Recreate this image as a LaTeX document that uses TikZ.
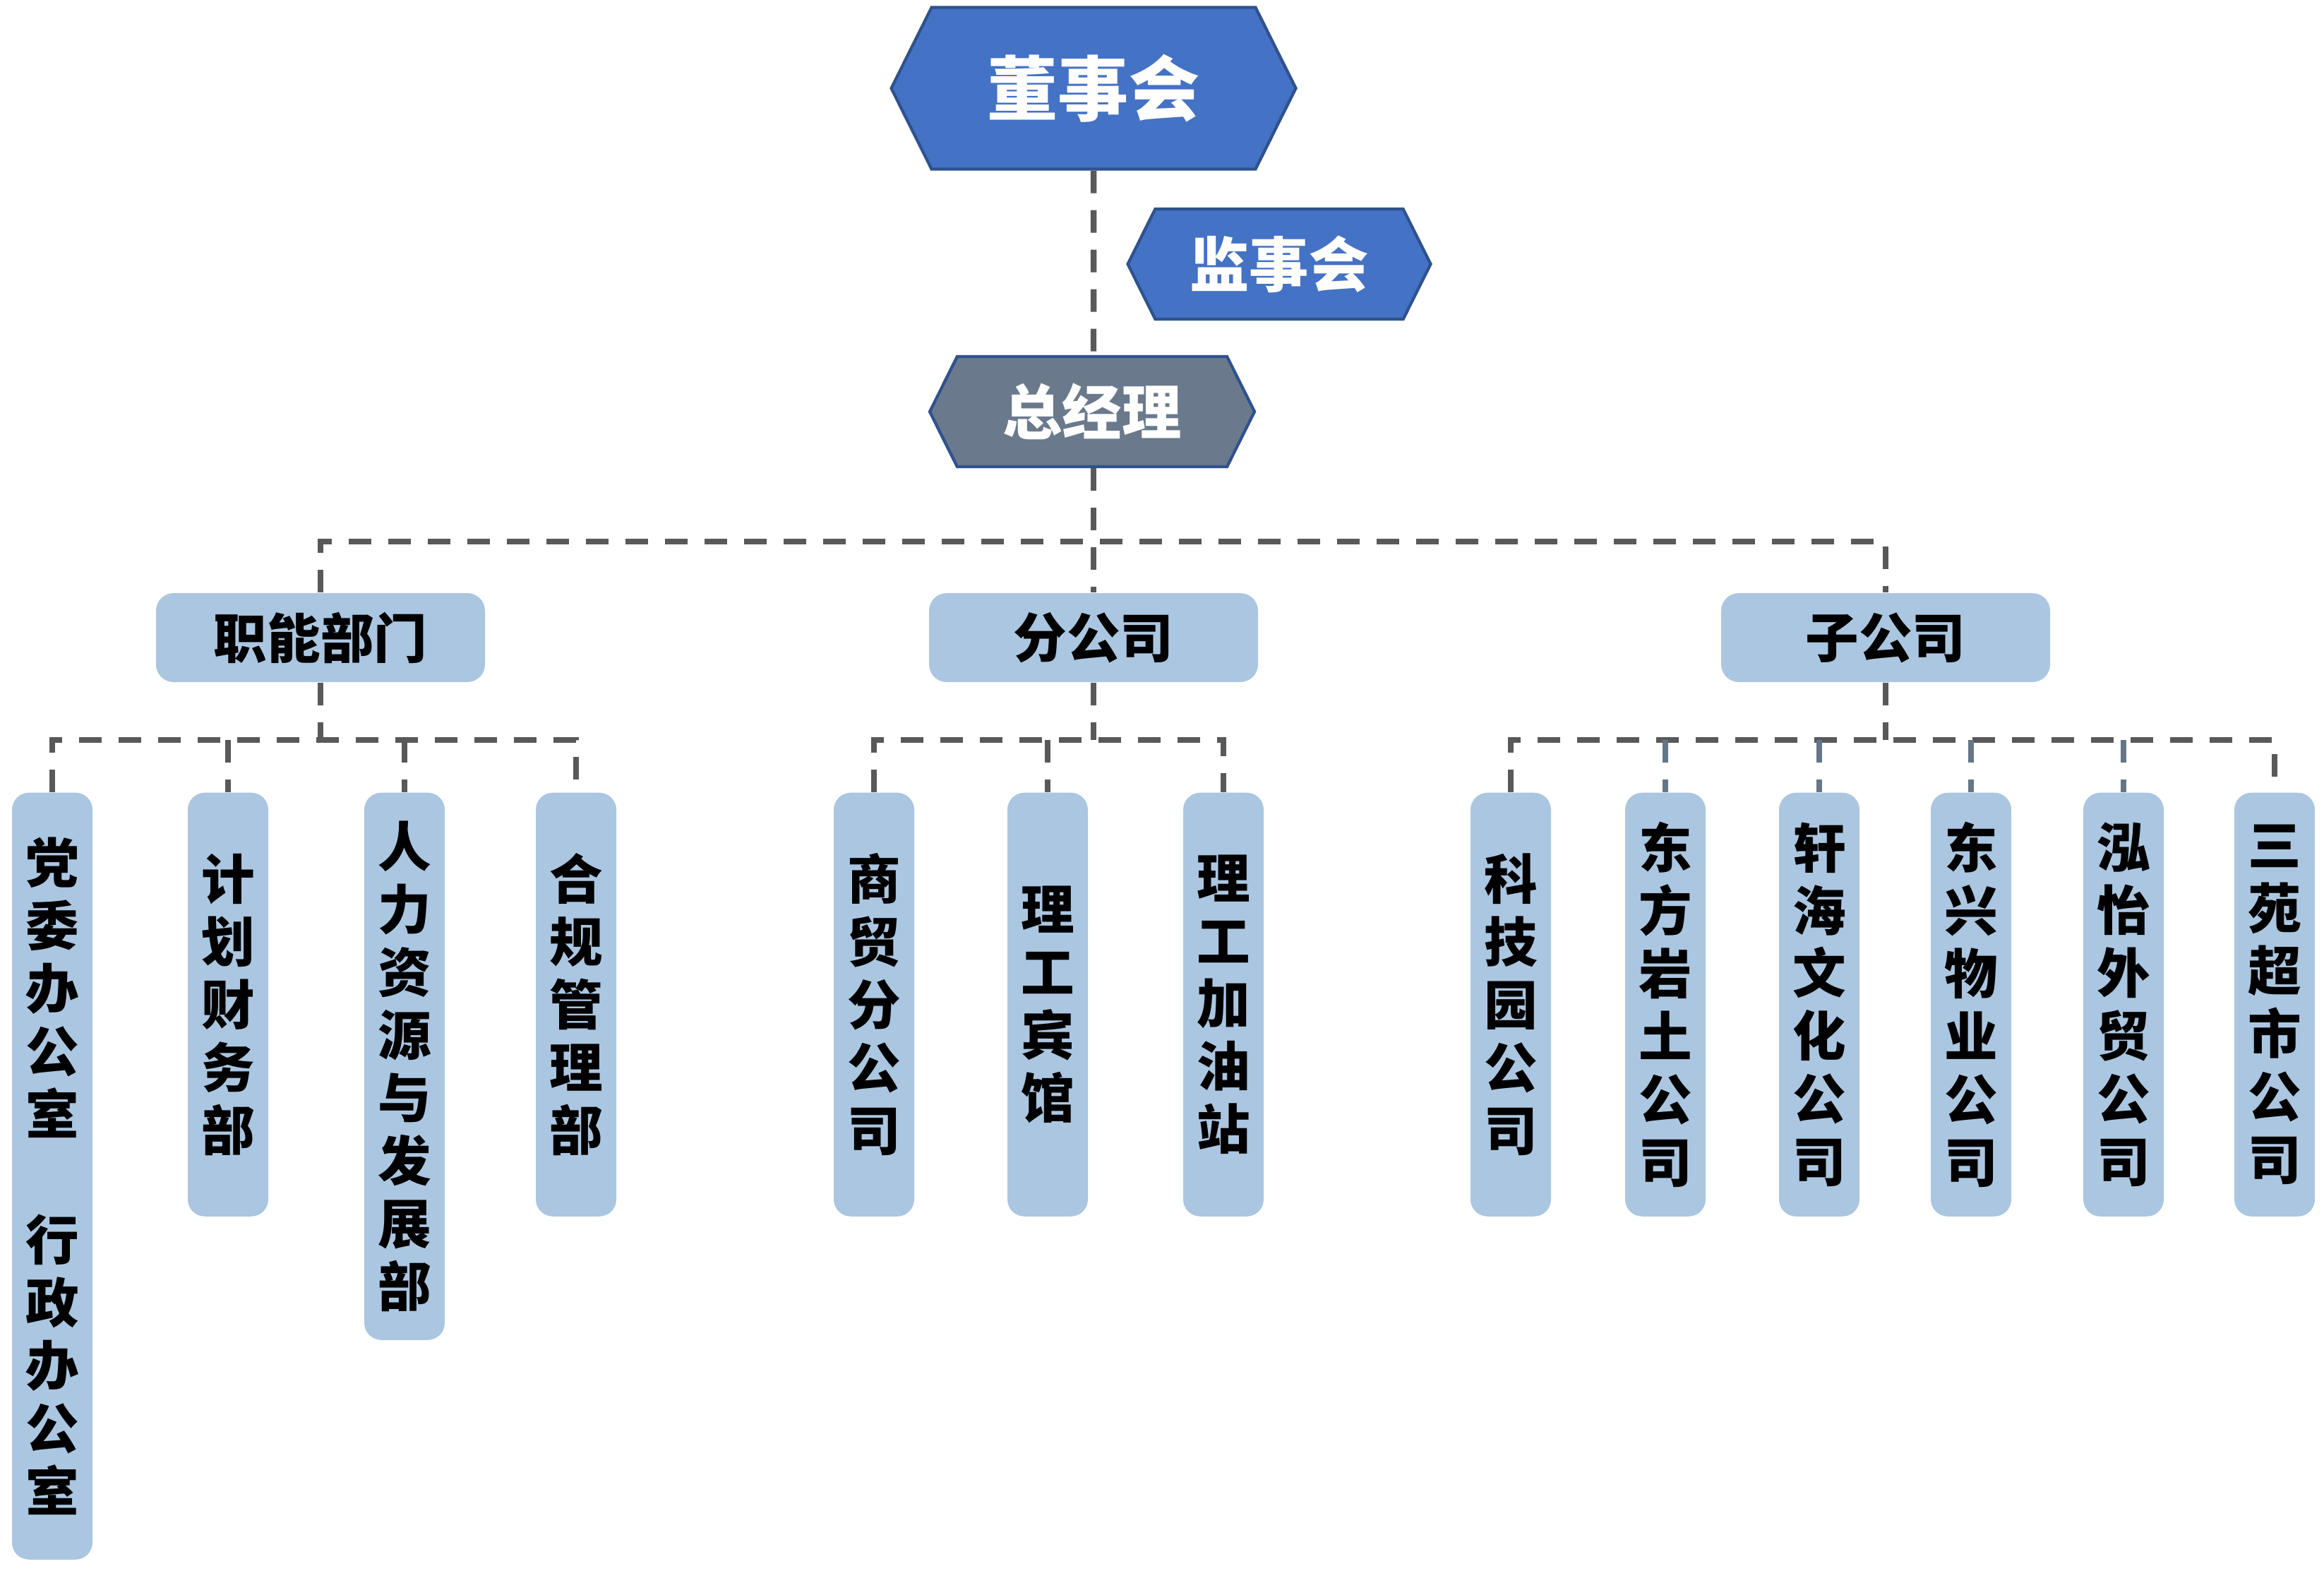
\documentclass[tikz,border=0pt]{standalone}
\usepackage{fontspec}
\newfontfamily\cjk{Noto Sans CJK SC}
\usetikzlibrary{shapes.symbols}
\definecolor{boardblue}{RGB}{68,114,196}
\definecolor{edgeblue}{RGB}{47,82,143}
\definecolor{gmslate}{RGB}{106,122,140}
\definecolor{unitblue}{RGB}{171,198,224}
\definecolor{linkgray}{RGB}{89,89,89}
\definecolor{stubslate}{RGB}{100,118,135}
\tikzset{
  hexa/.style={signal, signal to=east and west, signal pointer angle=127, draw=edgeblue, line width=1.2pt, inner sep=0pt, text=white},
  grp/.style={rectangle, rounded corners=0.25cm, fill=unitblue, minimum width=4.66cm, minimum height=1.26cm, inner sep=0pt,
    font=\cjk\bfseries\fontsize{21.5pt}{24pt}\selectfont},
  unit/.style={rectangle, rounded corners=0.24cm, fill=unitblue, minimum width=1.14cm, anchor=north, align=center, inner sep=0pt,
    font=\cjk\bfseries\fontsize{21.5pt}{25.3pt}\selectfont},
  link/.style={linkgray, line width=2.4pt, dash pattern=on 0.32cm off 0.24cm},
}

\begin{document}
\begin{tikzpicture}
\useasboundingbox (0,0) rectangle (32.92,-22.24);
% top of the chart
\node[hexa, fill=boardblue, minimum width=5.73cm, minimum height=2.29cm,
  font=\cjk\bfseries\fontsize{28.5pt}{30pt}\selectfont] (board) at (15.49,-1.25) {董事会};
\node[hexa, fill=boardblue, minimum width=4.29cm, minimum height=1.56cm,
  font=\cjk\bfseries\fontsize{24pt}{26pt}\selectfont] (sup) at (18.12,-3.74) {监事会};
\node[hexa, fill=gmslate, minimum width=4.60cm, minimum height=1.56cm,
  font=\cjk\bfseries\fontsize{24pt}{26pt}\selectfont] (gm) at (15.47,-5.83) {总经理};

% three groups
\node[grp] (fun) at (4.54,-9.03) {职能部门};
\node[grp] (br) at (15.49,-9.03) {分公司};
\node[grp] (sub) at (26.71,-9.03) {子公司};

% functional departments
\node[unit, minimum height=10.86cm] (f1) at (0.74,-11.22) {党\\委\\办\\公\\室\\\mbox{}\\行\\政\\办\\公\\室};
\node[unit, minimum height=6.00cm] (f2) at (3.23,-11.22) {计\\划\\财\\务\\部};
\node[unit, minimum height=7.75cm] (f3) at (5.73,-11.22) {人\\力\\资\\源\\与\\发\\展\\部};
\node[unit, minimum height=6.00cm] (f4) at (8.16,-11.22) {合\\规\\管\\理\\部};

% branches
\node[unit, minimum height=6.00cm] (b1) at (12.38,-11.22) {商\\贸\\分\\公\\司};
\node[unit, minimum height=6.00cm] (b2) at (14.84,-11.22) {理\\工\\宾\\馆};
\node[unit, minimum height=6.00cm] (b3) at (17.33,-11.22) {理\\工\\加\\油\\站};

% subsidiaries
\node[unit, minimum height=6.00cm] (s1) at (21.40,-11.22) {科\\技\\园\\公\\司};
\node[unit, minimum height=6.00cm] (s2) at (23.59,-11.22) {东\\方\\岩\\土\\公\\司};
\node[unit, minimum height=6.00cm] (s3) at (25.77,-11.22) {轩\\海\\文\\化\\公\\司};
\node[unit, minimum height=6.00cm] (s4) at (27.92,-11.22) {东\\兴\\物\\业\\公\\司};
\node[unit, minimum height=6.00cm] (s5) at (30.08,-11.22) {泓\\怡\\外\\贸\\公\\司};
\node[unit, minimum height=6.00cm] (s6) at (32.22,-11.22) {三\\苑\\超\\市\\公\\司};

% dashed connectors
\coordinate (topbus) at (15.49,-7.67);
\coordinate (fbus) at (4.54,-10.48);
\coordinate (bbus) at (15.49,-10.48);
\coordinate (sbus) at (26.71,-10.48);
\draw[link] (board) -- (board |- gm.north);
\draw[link] (br |- gm.south) -- (br);
\draw[link] (fun) |- (topbus) -| (sub);

\draw[link] (fun) -- (fbus);
\draw[link] (f1) |- (fbus) -| (f4);
\draw[link] (f2 |- fbus) -- (f2);
\draw[link] (f3 |- fbus) -- (f3);

\draw[link] (br) -- (bbus);
\draw[link] (b1) |- (bbus) -| (b3);
\draw[link] (b2 |- bbus) -- (b2);

\draw[link] (sub) -- (sbus);
\draw[link] (s1) |- (sbus) -| (s6);
\draw[link, stubslate] (s2 |- sbus) -- (s2);
\draw[link, stubslate] (s3 |- sbus) -- (s3);
\draw[link, stubslate] (s4 |- sbus) -- (s4);
\draw[link, stubslate] (s5 |- sbus) -- (s5);
\end{tikzpicture}
\end{document}
